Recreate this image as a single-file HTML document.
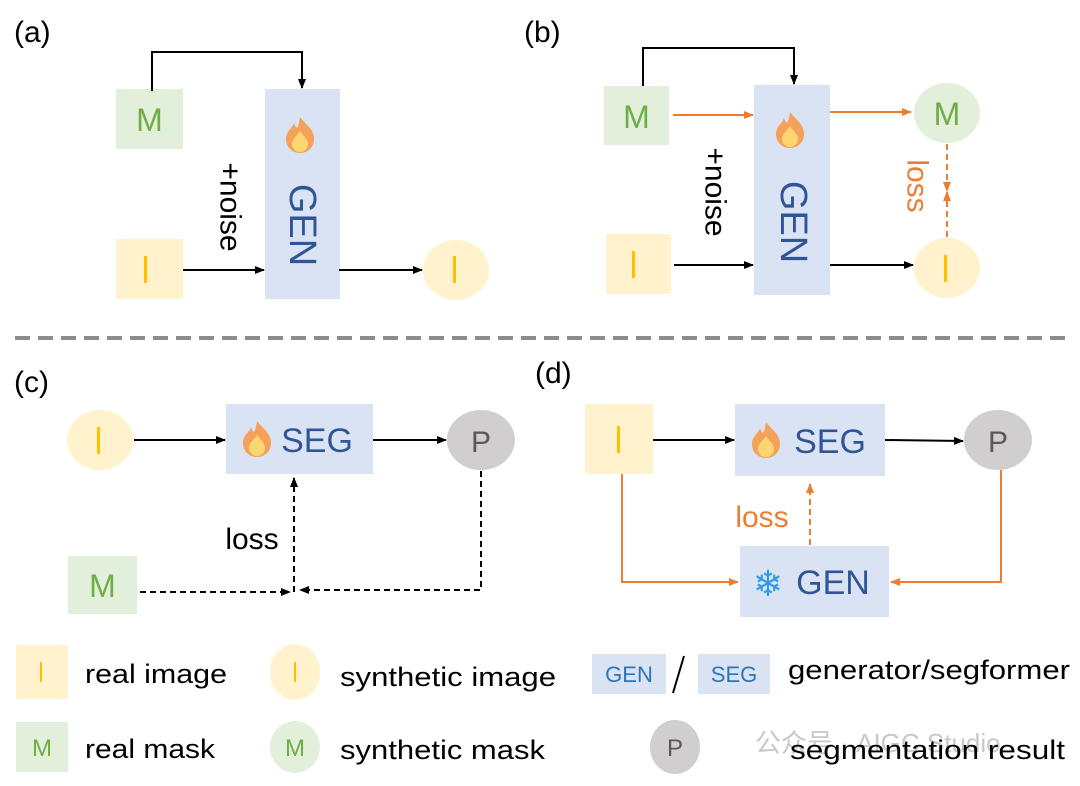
<!DOCTYPE html>
<html><head><meta charset="utf-8"><style>
html,body{margin:0;padding:0;background:#fff;}
svg{display:block;}
text{font-family:"Liberation Sans","DejaVu Sans",sans-serif;}
</style></head><body>
<svg width="1080" height="786" viewBox="0 0 1080 786" xmlns="http://www.w3.org/2000/svg">
<defs>
<marker id="ab" markerWidth="10" markerHeight="10" refX="9" refY="5" orient="auto" markerUnits="userSpaceOnUse"><path d="M0,1 L10,5 L0,9 z" fill="#000"/></marker>
<marker id="ao" markerWidth="10" markerHeight="10" refX="9" refY="5" orient="auto" markerUnits="userSpaceOnUse"><path d="M0,1 L10,5 L0,9 z" fill="#ed7d31"/></marker>
<g id="flame">
<path d="M0,-18 C6,-10 14,-6 14,4 C14,12 8,18 0,18 C-8,18 -14,12 -14,4 C-14,-4 -8,-6 -6,-12 C-4,-6 -2,-4 0,-18z" fill="#f4a259"/>
<path d="M0,-4 C4,2 8,4 8,9 C8,14 4,17 0,17 C-4,17 -8,14 -8,9 C-8,4 -4,2 0,-4z" fill="#fcd670"/>
</g>
</defs>

<!-- (a) -->
<text x="14" y="42" font-size="30">(a)</text>
<rect x="116" y="89" width="67" height="60" fill="#e2efda"/>
<text x="149.5" y="131" font-size="32" fill="#70ad47" text-anchor="middle">M</text>
<rect x="265" y="89" width="75" height="210" fill="#dae3f3"/>
<use href="#flame" x="300" y="135"/>
<text transform="translate(302,225) rotate(90)" font-size="38" fill="#2f5597" text-anchor="middle" dominant-baseline="central">GEN</text>
<rect x="116" y="239" width="67" height="60" fill="#fff2cc"/>
<rect x="144" y="256" width="3" height="27" fill="#ffc000"/>
<ellipse cx="456" cy="270" rx="33" ry="30" fill="#fff2cc"/>
<rect x="453" y="256" width="3" height="27" fill="#ffc000"/>
<polyline points="152,91 152,52 302,52 302,88" fill="none" stroke="#000" stroke-width="2" marker-end="url(#ab)"/>
<line x1="183" y1="270" x2="264" y2="270" stroke="#000" stroke-width="2" marker-end="url(#ab)"/>
<line x1="339" y1="270" x2="422" y2="270" stroke="#000" stroke-width="2" marker-end="url(#ab)"/>
<text transform="translate(230,207) rotate(90)" font-size="30" text-anchor="middle" dominant-baseline="central">+noise</text>

<!-- (b) -->
<text x="524" y="42" font-size="30">(b)</text>
<rect x="604" y="86" width="65" height="59" fill="#e2efda"/>
<text x="636.5" y="128" font-size="32" fill="#70ad47" text-anchor="middle">M</text>
<rect x="754" y="85" width="76" height="210" fill="#dae3f3"/>
<use href="#flame" x="790" y="130"/>
<text transform="translate(793,222) rotate(90)" font-size="38" fill="#2f5597" text-anchor="middle" dominant-baseline="central">GEN</text>
<rect x="606" y="234" width="65" height="60" fill="#fff2cc"/>
<rect x="632" y="251" width="3" height="27" fill="#ffc000"/>
<ellipse cx="947" cy="113" rx="33" ry="30" fill="#e2efda"/>
<text x="947" y="125" font-size="32" fill="#70ad47" text-anchor="middle">M</text>
<ellipse cx="947" cy="268" rx="33" ry="30" fill="#fff2cc"/>
<rect x="944" y="255" width="3" height="27" fill="#ffc000"/>
<polyline points="643,86 643,48 794,48 794,84" fill="none" stroke="#000" stroke-width="2" marker-end="url(#ab)"/>
<line x1="673" y1="115" x2="753" y2="115" stroke="#ed7d31" stroke-width="2" marker-end="url(#ao)"/>
<line x1="830" y1="112" x2="911" y2="112" stroke="#ed7d31" stroke-width="2" marker-end="url(#ao)"/>
<line x1="674" y1="265" x2="753" y2="265" stroke="#000" stroke-width="2" marker-end="url(#ab)"/>
<line x1="830" y1="265" x2="913" y2="265" stroke="#000" stroke-width="2" marker-end="url(#ab)"/>
<line x1="947" y1="144" x2="947" y2="191" stroke="#ed7d31" stroke-width="2" stroke-dasharray="6,4" marker-end="url(#ao)"/>
<line x1="947" y1="237" x2="947" y2="192" stroke="#ed7d31" stroke-width="2" stroke-dasharray="6,4" marker-end="url(#ao)"/>
<text transform="translate(917,186) rotate(90)" font-size="30" fill="#ed7d31" text-anchor="middle" dominant-baseline="central">loss</text>
<text transform="translate(715,192) rotate(90)" font-size="30" text-anchor="middle" dominant-baseline="central">+noise</text>

<!-- divider -->
<line x1="15" y1="338" x2="1065" y2="338" stroke="#8c8c8c" stroke-width="4" stroke-dasharray="15,8"/>

<!-- (c) -->
<text x="14" y="392" font-size="30">(c)</text>
<ellipse cx="100" cy="440" rx="33" ry="30" fill="#fff2cc"/>
<rect x="97" y="427" width="3" height="27" fill="#ffc000"/>
<rect x="226" y="404" width="147" height="70" fill="#dae3f3"/>
<use href="#flame" x="257" y="439"/>
<text x="317" y="452" font-size="34" fill="#2f5597" text-anchor="middle">SEG</text>
<ellipse cx="481" cy="440" rx="34" ry="30" fill="#d0cece"/>
<text x="481" y="452" font-size="30" fill="#595959" text-anchor="middle">P</text>
<line x1="134" y1="440" x2="225" y2="440" stroke="#000" stroke-width="2" marker-end="url(#ab)"/>
<line x1="373" y1="440" x2="446" y2="440" stroke="#000" stroke-width="2" marker-end="url(#ab)"/>
<rect x="68" y="556" width="69" height="58" fill="#e2efda"/>
<text x="102.5" y="597" font-size="32" fill="#70ad47" text-anchor="middle">M</text>
<line x1="140" y1="592" x2="290" y2="592" stroke="#000" stroke-width="2" stroke-dasharray="6,4" marker-end="url(#ab)"/>
<polyline points="481,471 481,590 300,590" fill="none" stroke="#000" stroke-width="2" stroke-dasharray="6,4" marker-end="url(#ab)"/>
<line x1="294" y1="592" x2="294" y2="478" stroke="#000" stroke-width="2" stroke-dasharray="6,4" marker-end="url(#ab)"/>
<text x="252" y="549" font-size="30" text-anchor="middle">loss</text>

<!-- (d) -->
<text x="535" y="383" font-size="30">(d)</text>
<rect x="585" y="404" width="68" height="70" fill="#fff2cc"/>
<rect x="617" y="426" width="3" height="27" fill="#ffc000"/>
<rect x="735" y="404" width="150" height="72" fill="#dae3f3"/>
<use href="#flame" x="766" y="440"/>
<text x="830" y="453" font-size="34" fill="#2f5597" text-anchor="middle">SEG</text>
<ellipse cx="998" cy="440" rx="34" ry="30" fill="#d0cece"/>
<text x="998" y="452" font-size="30" fill="#595959" text-anchor="middle">P</text>
<line x1="653" y1="440" x2="734" y2="440" stroke="#000" stroke-width="2" marker-end="url(#ab)"/>
<line x1="885" y1="440" x2="963" y2="441" stroke="#000" stroke-width="2" marker-end="url(#ab)"/>
<rect x="740" y="546" width="149" height="71" fill="#dae3f3"/>
<text x="768" y="596" font-size="36" fill="#2e9be6" text-anchor="middle">❄</text>
<text x="833" y="594" font-size="34" fill="#2f5597" text-anchor="middle">GEN</text>
<polyline points="622,474 622,582 738,582" fill="none" stroke="#ed7d31" stroke-width="2" marker-end="url(#ao)"/>
<polyline points="1001,470 1001,582 891,582" fill="none" stroke="#ed7d31" stroke-width="2" marker-end="url(#ao)"/>
<line x1="810" y1="545" x2="810" y2="484" stroke="#ed7d31" stroke-width="2" stroke-dasharray="6,4" marker-end="url(#ao)"/>
<text x="762" y="527" font-size="30" fill="#ed7d31" text-anchor="middle">loss</text>

<!-- legend -->
<rect x="16" y="645" width="52" height="54" fill="#fff2cc"/>
<rect x="40" y="662" width="2" height="20" fill="#ffc000"/>
<text x="85" y="683" font-size="27" textLength="142" lengthAdjust="spacingAndGlyphs">real image</text>
<ellipse cx="295" cy="672" rx="25" ry="28" fill="#fff2cc"/>
<rect x="294" y="662" width="2" height="20" fill="#ffc000"/>
<text x="340" y="686" font-size="27" textLength="216" lengthAdjust="spacingAndGlyphs">synthetic image</text>
<rect x="592" y="654" width="74" height="40" fill="#dae3f3"/>
<text x="629" y="682" font-size="22" fill="#2e75b6" text-anchor="middle">GEN</text>
<line x1="673" y1="693" x2="684" y2="656" stroke="#000" stroke-width="2"/>
<rect x="698" y="654" width="72" height="40" fill="#dae3f3"/>
<text x="734" y="682" font-size="22" fill="#2e75b6" text-anchor="middle">SEG</text>
<text x="788" y="679" font-size="27" textLength="282" lengthAdjust="spacingAndGlyphs">generator/segformer</text>
<rect x="16" y="722" width="52" height="50" fill="#e2efda"/>
<text x="42" y="756" font-size="24" fill="#70ad47" text-anchor="middle">M</text>
<text x="85" y="758" font-size="27" textLength="130" lengthAdjust="spacingAndGlyphs">real mask</text>
<ellipse cx="295" cy="747" rx="25" ry="26" fill="#e2efda"/>
<text x="295" y="756" font-size="24" fill="#70ad47" text-anchor="middle">M</text>
<text x="340" y="759" font-size="27" textLength="205" lengthAdjust="spacingAndGlyphs">synthetic mask</text>
<ellipse cx="675" cy="747" rx="25" ry="27" fill="#d0cece"/>
<text x="675" y="756" font-size="24" fill="#595959" text-anchor="middle">P</text>
<text x="755" y="752" font-size="26" fill="#c8c8c8">公众号 · AIGC Studio</text>
<text x="790" y="759" font-size="27" textLength="275" lengthAdjust="spacingAndGlyphs">segmentation result</text>
</svg>
</body></html>
